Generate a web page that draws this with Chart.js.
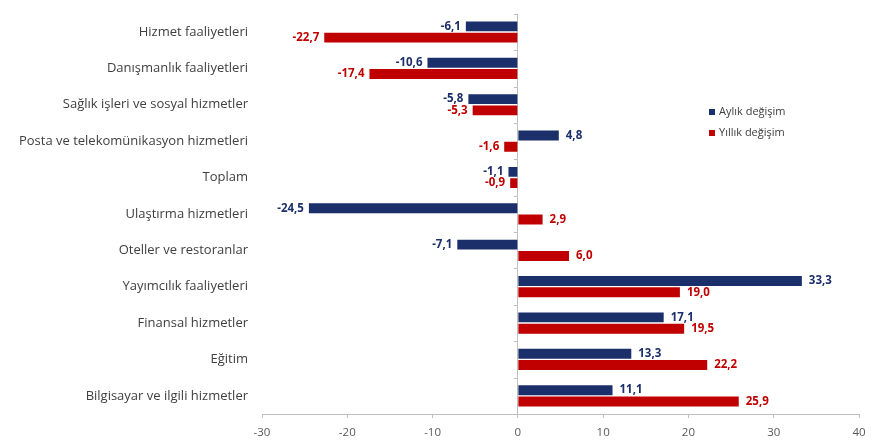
<!DOCTYPE html>
<html>
<head>
<meta charset="utf-8">
<script src="https://cdn.jsdelivr.net/npm/chart.js@4.4.1/dist/chart.umd.min.js"></script>
<style>
    body { margin: 0; background: #fff; }
    #wrap { width: 877px; height: 442px; }
</style>
</head>
<body>
<div id="wrap"><canvas id="barChart" width="877" height="442"></canvas></div>
<script>
const categories = [
    'Hizmet faaliyetleri',
    'Danışmanlık faaliyetleri',
    'Sağlık işleri ve sosyal hizmetler',
    'Posta ve telekomünikasyon hizmetleri',
    'Toplam',
    'Ulaştırma hizmetleri',
    'Oteller ve restoranlar',
    'Yayımcılık faaliyetleri',
    'Finansal hizmetler',
    'Eğitim',
    'Bilgisayar ve ilgili hizmetler'
];
const monthly = [-6.1, -10.6, -5.8, 4.8, -1.1, -24.5, -7.1, 33.3, 17.1, 13.3, 11.1];
const yearly = [-22.7, -17.4, -5.3, -1.6, -0.9, 2.9, 6.0, 19.0, 19.5, 22.2, 25.9];
const seriesNames = ['Aylık değişim', 'Yıllık değişim'];
const xTicks = [-30, -20, -10, 0, 10, 20, 30, 40];

const blue = '#1b2f6b';
const red = '#c00000';
const fontFamily = '"Open Sans", sans-serif';

// value labels next to bar ends
const valueLabels = {
    id: 'valueLabels',
    afterDatasetsDraw(chart) {
        const ctx = chart.ctx;
        ctx.save();
        ctx.font = 'bold 11.5px ' + fontFamily;
        ctx.textBaseline = 'middle';
        chart.data.datasets.forEach((ds, i) => {
            const meta = chart.getDatasetMeta(i);
            ctx.fillStyle = ds.borderColor;
            meta.data.forEach((bar, j) => {
                const v = ds.data[j];
                const txt = v.toFixed(1).replace('.', ',');
                if (v < 0) {
                    ctx.textAlign = 'right';
                    ctx.fillText(txt, bar.x - 5, bar.y);
                } else {
                    ctx.textAlign = 'left';
                    ctx.fillText(txt, bar.x + 7, bar.y);
                }
            });
        });
        ctx.restore();
    }
};

// small legend inside the plot
const sideLegend = {
    id: 'sideLegend',
    afterDraw(chart) {
        const ctx = chart.ctx;
        ctx.save();
        ctx.font = '11px ' + fontFamily;
        ctx.textBaseline = 'middle';
        ctx.textAlign = 'left';
        chart.data.datasets.forEach((ds, i) => {
            const y = 112 + i * 21;
            ctx.fillStyle = ds.backgroundColor;
            ctx.fillRect(709, y - 3, 6, 6);
            ctx.fillStyle = '#404040';
            ctx.fillText(ds.label, 719, y);
        });
        ctx.restore();
    }
};

// tick marks on the zero line between categories
const zeroTicks = {
    id: 'zeroTicks',
    beforeDatasetsDraw(chart) {
        const ctx = chart.ctx;
        const x0 = chart.scales.x.getPixelForValue(0);
        const y = chart.scales.y;
        ctx.save();
        ctx.strokeStyle = '#bfbfbf';
        ctx.lineWidth = 1;
        for (let i = 0; i <= categories.length; i++) {
            const py = Math.round(y.getPixelForValue(i - 0.5)) + 0.5;
            ctx.beginPath();
            ctx.moveTo(x0 - 4, py);
            ctx.lineTo(x0, py);
            ctx.stroke();
        }
        ctx.restore();
    }
};

const barChart = new Chart(document.getElementById('barChart').getContext('2d'), {
    type: 'bar',
    data: {
        labels: categories,
        datasets: [{
            label: seriesNames[0],
            data: monthly,
            backgroundColor: blue,
            borderColor: blue,
            borderWidth: 0,
        },
            {
                label: seriesNames[1],
                data: yearly,
                backgroundColor: red,
                borderColor: red,
                borderWidth: 0,
            }]
    },
    options: {
        indexAxis: 'y',
        responsive: false,
        animation: false,
        layout: {padding: {left: 0, right: 18, top: 4, bottom: 0}},
        categoryPercentage: 0.62,
        barPercentage: 0.88,
        plugins: {
            legend: {display: false},
            tooltip: {enabled: false}
        },
        scales: {
            x: {
                min: -30,
                max: 40,
                afterBuildTicks: (scale) => {
                    scale.ticks = xTicks.map(v => ({value: v}));
                },
                afterFit: (scale) => {
                    scale.height = 28;
                },
                grid: {
                    color: (c) => c.tick && c.tick.value === 0 ? '#bfbfbf' : 'rgba(0,0,0,0)',
                    tickColor: '#bfbfbf',
                    tickLength: 4,
                },
                border: {color: '#bfbfbf'},
                ticks: {
                    color: '#595959',
                    font: {family: fontFamily, size: 11.5},
                    padding: 8,
                }
            },
            y: {
                afterFit: (scale) => {
                    scale.width = 262;
                },
                grid: {display: false},
                border: {display: false},
                ticks: {
                    color: '#404040',
                    font: {family: fontFamily, size: 13},
                    padding: 6,
                }
            }
        }
    },
    plugins: [zeroTicks, valueLabels, sideLegend]
});
</script>
</body>
</html>
